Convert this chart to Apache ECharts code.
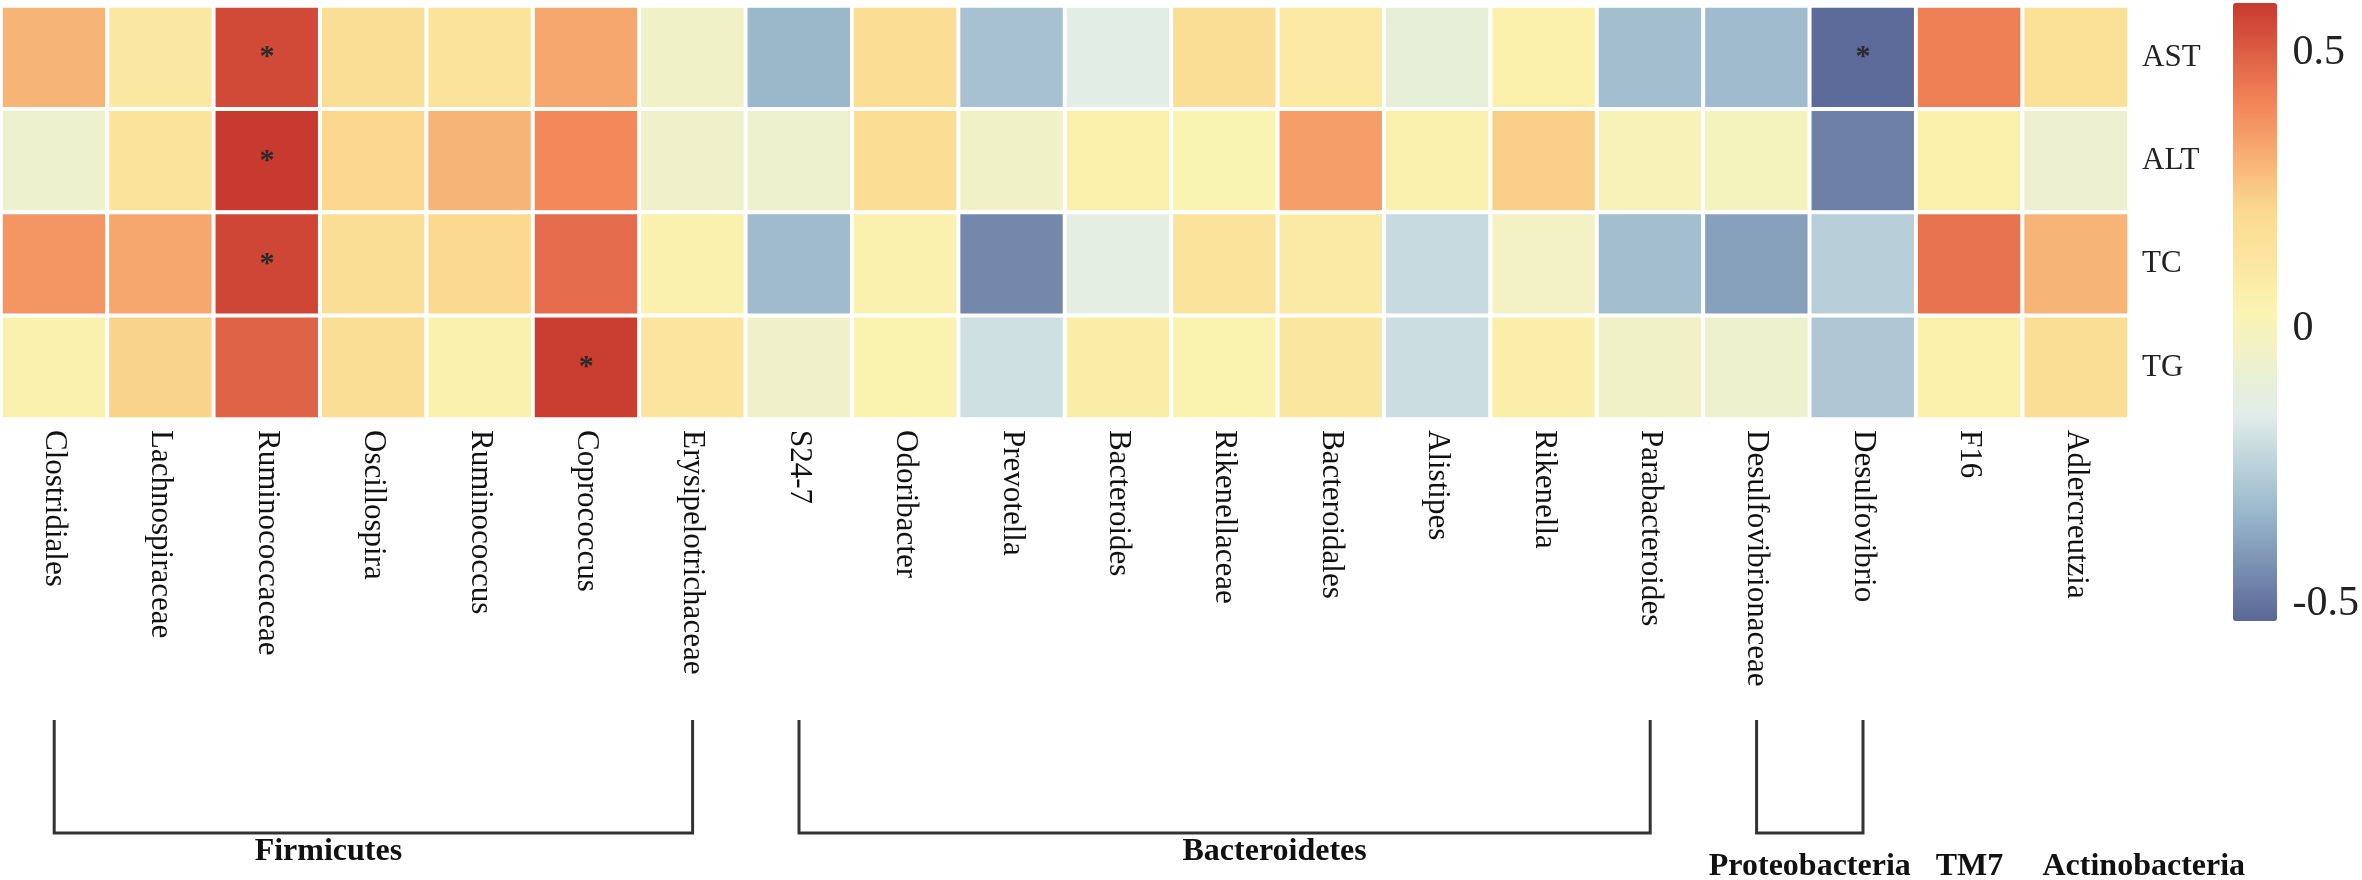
<!DOCTYPE html>
<html lang="en">
<head>
<meta charset="UTF-8">
<title>Correlation heatmap</title>
<script src="https://cdn.jsdelivr.net/npm/echarts@6/dist/echarts.min.js"></script>
<style>
    html, body { margin: 0; padding: 0; background: #fff; }
    #chart { width: 2362px; height: 880px; }
</style>
</head>
<body>
<div id="chart"></div>
<script>
// taxa along the x axis (left to right)
var taxa = ['Clostridiales', 'Lachnospiraceae', 'Ruminococcaceae', 'Oscillospira', 'Ruminococcus',
    'Coprococcus', 'Erysipelotrichaceae', 'S24-7', 'Odoribacter', 'Prevotella', 'Bacteroides',
    'Rikenellaceae', 'Bacteroidales', 'Alistipes', 'Rikenella', 'Parabacteroides',
    'Desulfovibrionaceae', 'Desulfovibrio', 'F16', 'Adlercreutzia'];
// rows, top to bottom
var traits = ['AST', 'ALT', 'TC', 'TG'];

// correlation values, one per taxon
var astValues = [0.30, 0.12, 0.55, 0.18, 0.15, 0.33, -0.04, -0.33, 0.19, -0.30,
    -0.14, 0.18, 0.11, -0.10, 0.06, -0.31, -0.32, -0.52, 0.42, 0.17];
var altValues = [-0.06, 0.15, 0.59, 0.22, 0.30, 0.40, -0.05, -0.06, 0.19, -0.04,
    0.06, 0.03, 0.35, 0.05, 0.24, 0.01, -0.01, -0.47, 0.06, -0.07];
var tcValues = [0.37, 0.33, 0.56, 0.18, 0.21, 0.47, 0.05, -0.32, 0.05, -0.45,
    -0.13, 0.15, 0.10, -0.22, -0.03, -0.31, -0.39, -0.26, 0.45, 0.30];
var tgValues = [0.05, 0.23, 0.49, 0.18, 0.05, 0.58, 0.14, -0.05, 0.04, -0.20,
    0.08, 0.04, 0.13, -0.21, 0.07, -0.04, -0.06, -0.28, 0.06, 0.18];

// cells marked with *
var sigCells = [['AST', 'Ruminococcaceae'], ['ALT', 'Ruminococcaceae'], ['TC', 'Ruminococcaceae'],
    ['TG', 'Coprococcus'], ['AST', 'Desulfovibrio']];

// phylum groups under the labels
var phyla = [
    { name: 'Firmicutes', first: 'Clostridiales', last: 'Erysipelotrichaceae' },
    { name: 'Bacteroidetes', first: 'S24-7', last: 'Parabacteroides' },
    { name: 'Proteobacteria', first: 'Desulfovibrionaceae', last: 'Desulfovibrio' },
    { name: 'TM7', first: 'F16', last: 'F16' },
    { name: 'Actinobacteria', first: 'Adlercreutzia', last: 'Adlercreutzia' }
];

// colour scale
var scaleMin = -0.53, scaleMax = 0.59;
var scaleTicks = [-0.5, 0, 0.5];

var rowValues = [astValues, altValues, tcValues, tgValues];
var cells = [];
for (var r = 0; r < traits.length; r++) {
    for (var c = 0; c < taxa.length; c++) {
        cells.push([c, r, rowValues[r][c]]);
    }
}
function isSig(r, c) {
    for (var i = 0; i < sigCells.length; i++) {
        if (sigCells[i][0] === traits[r] && sigCells[i][1] === taxa[c]) return true;
    }
    return false;
}

var serif = '"Liberation Serif", "Times New Roman", serif';
var chart = echarts.init(document.getElementById('chart'));

var option = {
    animation: false,
    grid: [
        { left: 1, top: 6, width: 2128, height: 413 },
        { left: 2233, top: 3, width: 44, height: 618 }
    ],
    xAxis: [
        {
            type: 'category', data: taxa, gridIndex: 0, position: 'bottom',
            axisLine: { show: false }, axisTick: { show: false }, splitLine: { show: false },
            axisLabel: { rotate: -90, margin: 11, fontFamily: serif, fontSize: 31, color: '#111', interval: 0 }
        },
        { type: 'category', data: ['bar'], gridIndex: 1, show: false }
    ],
    yAxis: [
        {
            type: 'category', data: traits, gridIndex: 0, inverse: true, position: 'right',
            axisLine: { show: false }, axisTick: { show: false }, splitLine: { show: false },
            axisLabel: { margin: 13, fontFamily: serif, fontSize: 31, color: '#222' }
        },
        {
            type: 'value', gridIndex: 1, min: scaleMin, max: scaleMax, position: 'right',
            axisLine: { show: false }, axisTick: { show: false }, splitLine: { show: false },
            axisLabel: { customValues: scaleTicks, margin: 16, fontFamily: serif, fontSize: 42, color: '#222' }
        }
    ],
    visualMap: {
        type: 'continuous',
        min: scaleMin, max: scaleMax,
        seriesIndex: 0,
        calculable: false,
        left: 2233, top: 3, padding: 0,
        itemWidth: 44, itemHeight: 618,
        inRange: { color: ['#5a6797', '#96b4c9', '#e0edea', '#faf4b2', '#fbd98e', '#f3875a', '#c8392f'] }
    },
    series: [
        {
            type: 'heatmap',
            xAxisIndex: 0, yAxisIndex: 0,
            data: cells,
            itemStyle: { borderColor: '#fff', borderWidth: 4 },
            label: {
                show: true,
                fontFamily: serif, fontSize: 30, fontWeight: 'bold', color: '#2a2a2a',
                formatter: function (p) { return isSig(p.value[1], p.value[0]) ? '*' : ''; }
            },
            emphasis: { disabled: true }
        },
        { type: 'scatter', xAxisIndex: 1, yAxisIndex: 1, data: [] }
    ]
};
chart.setOption(option);

// phylum brackets and names, placed from the category axis
var labelShift = { 'Firmicutes': -45, 'Bacteroidetes': 50, 'Proteobacteria': 0, 'TM7': 0, 'Actinobacteria': 68 };
var bracketTop = 720, bracketBottom = 833;
var elements = [];
phyla.forEach(function (g) {
    var x1 = chart.convertToPixel({ xAxisIndex: 0 }, g.first);
    var x2 = chart.convertToPixel({ xAxisIndex: 0 }, g.last);
    var hasBracket = g.first !== g.last;
    if (hasBracket) {
        elements.push({
            type: 'polyline',
            shape: { points: [[x1, bracketTop], [x1, bracketBottom], [x2, bracketBottom], [x2, bracketTop]] },
            style: { stroke: '#333', lineWidth: 3, fill: null }
        });
    }
    var ty = (g.name === 'Firmicutes' || g.name === 'Bacteroidetes') ? 852 : 867;
    elements.push({
        type: 'text',
        style: {
            text: g.name, x: (x1 + x2) / 2 + labelShift[g.name], y: ty,
            textAlign: 'center', textVerticalAlign: 'middle',
            font: 'bold 32px ' + serif, fill: '#111'
        }
    });
});
chart.setOption({ graphic: elements });
</script>
</body>
</html>
